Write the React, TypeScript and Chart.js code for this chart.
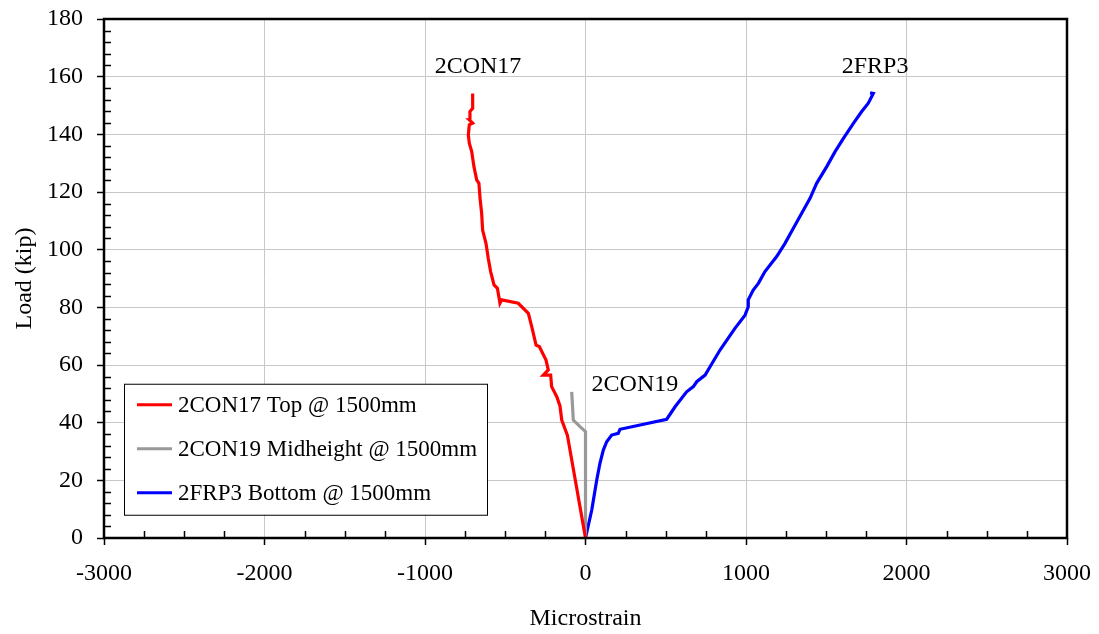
import React, { useEffect, useRef } from "react";
import { Chart, registerables } from "chart.js";

Chart.register(...registerables);

const con17Strain = [0, -113, -148, -159, -179, -211, -217, -263, -232, -246, -288, -308, -335, -356, -419, -522, -533, -549, -570, -591, -606, -620, -641, -647, -657, -664, -678, -695, -709, -724, -730, -724, -703, -724, -720, -703, -703];
const con17Load = [0, 35.7, 40.9, 45.8, 49, 52.5, 56.5, 56.5, 58.3, 61.7, 66.4, 66.9, 73.3, 77.9, 81.4, 82.6, 81.4, 86.6, 87.8, 92.4, 97, 102.2, 106.8, 112.6, 117.8, 123, 124.2, 128.8, 134, 136.9, 139.8, 143.3, 143.9, 145, 147.9, 149, 154.2];

const con19Strain = [0, 0, -34, -76, -86];
const con19Load = [0, 36.9, 38.6, 40.9, 50.7];

const frp3Strain = [0, 39, 70, 90, 111, 132, 163, 204, 215, 506, 558, 630, 672, 693, 745, 776, 838, 931, 994, 1014, 1014, 1045, 1077, 1118, 1191, 1243, 1295, 1347, 1399, 1440, 1503, 1555, 1607, 1669, 1721, 1762, 1793, 1773];
const frp3Load = [0, 9.7, 20.1, 25.9, 30.5, 33.4, 35.7, 36.3, 37.7, 41.2, 45.5, 50.7, 52.5, 54.2, 56.5, 59.4, 65.2, 72.7, 77.3, 80.2, 82.6, 86, 88.3, 92.4, 97.6, 102.2, 107.4, 112.6, 117.8, 123, 128.8, 134, 138.6, 143.8, 147.9, 150.8, 154.2, 154.4];

const seriesLabels = ["2CON17 Top @ 1500mm", "2CON19 Midheight @ 1500mm", "2FRP3 Bottom @ 1500mm"];
const seriesColors = ["#ff0000", "#999999", "#0000ff"];

const annotations = [
  { text: "2CON17", x: -670, y: 163.4 },
  { text: "2FRP3", x: 1804, y: 163.4 },
  { text: "2CON19", x: 308, y: 53.1 },
];

const xMin = -3000, xMax = 3000, xStep = 1000, xMinor = 250;
const yMin = 0, yMax = 180, yStep = 20, yMinor = 4;

const FONT = "'Liberation Serif', 'Times New Roman', serif";

const toPts = (xs: number[], ys: number[]) => xs.map((x, i) => ({ x, y: ys[i] }));

const zeroPad = (s: any) => {
  s.paddingLeft = 0;
  s.paddingRight = 0;
  s.paddingTop = 0;
  s.paddingBottom = 0;
};

const decorPlugin = {
  id: "decor",
  afterDraw(chart: any) {
    const ctx = chart.ctx;
    const ca = chart.chartArea;
    const xs = chart.scales.x;
    const ys = chart.scales.y;
    ctx.save();
    // minor ticks inside
    ctx.strokeStyle = "#000";
    ctx.lineWidth = 1.5;
    ctx.beginPath();
    for (let v = xMin; v <= xMax; v += xMinor) {
      if (v % xStep === 0) continue;
      const px = Math.round(xs.getPixelForValue(v)) + 0.5;
      ctx.moveTo(px, ca.bottom);
      ctx.lineTo(px, ca.bottom - 7);
    }
    for (let v = yMin; v <= yMax; v += yMinor) {
      if (v % yStep === 0) continue;
      const py = Math.round(ys.getPixelForValue(v)) + 0.5;
      ctx.moveTo(ca.left, py);
      ctx.lineTo(ca.left + 7, py);
    }
    ctx.stroke();
    // frame
    ctx.lineWidth = 2.5;
    ctx.strokeRect(ca.left, ca.top, ca.right - ca.left, ca.bottom - ca.top);
    // annotations
    ctx.fillStyle = "#000";
    ctx.font = `24px ${FONT}`;
    ctx.textAlign = "center";
    ctx.textBaseline = "middle";
    annotations.forEach((a) => {
      ctx.fillText(a.text, xs.getPixelForValue(a.x), ys.getPixelForValue(a.y));
    });
    // legend
    const bx = ca.left + 20, by = ys.getPixelForValue(53.5);
    const bw = 363, bh = 131;
    ctx.fillStyle = "#fff";
    ctx.fillRect(bx, by, bw, bh);
    ctx.strokeStyle = "#000";
    ctx.lineWidth = 1;
    ctx.strokeRect(bx + 0.5, by + 0.5, bw, bh);
    ctx.font = `23px ${FONT}`;
    chart.data.datasets.forEach((ds: any, i: number) => {
      const ly = by + 21 + i * 44;
      ctx.strokeStyle = ds.borderColor;
      ctx.lineWidth = 3;
      ctx.beginPath();
      ctx.moveTo(bx + 13, ly);
      ctx.lineTo(bx + 48, ly);
      ctx.stroke();
      ctx.fillStyle = "#000";
      ctx.textAlign = "left";
      ctx.textBaseline = "middle";
      ctx.fillText(ds.label, bx + 54, ly + 1);
    });
    ctx.restore();
  },
};

export default function App() {
  const ref = useRef<HTMLCanvasElement>(null);
  useEffect(() => {
    const xs = [con17Strain, con19Strain, frp3Strain];
    const ysArr = [con17Load, con19Load, frp3Load];
    const chart = new Chart(ref.current!, {
      type: "scatter",
      data: {
        datasets: seriesLabels.map((label, i) => ({
          label,
          data: toPts(xs[i], ysArr[i]),
          showLine: true,
          borderColor: seriesColors[i],
          backgroundColor: seriesColors[i],
          borderWidth: 3.2,
          pointRadius: 0,
          tension: 0,
        })),
      },
      options: {
        animation: false,
        responsive: true,
        maintainAspectRatio: false,
        layout: { padding: { top: 19, right: 32, left: 0, bottom: 0 } },
        plugins: { legend: { display: false }, tooltip: { enabled: false } },
        scales: {
          x: {
            type: "linear",
            min: xMin,
            max: xMax,
            afterFit: (s: any) => { s.height = 96; zeroPad(s); },
            ticks: { stepSize: xStep, color: "#000", font: { family: FONT, size: 24 }, padding: 14, maxRotation: 0, callback: (v: any) => String(v) },
            grid: { color: "#c8c8c8", lineWidth: 1, tickColor: "#000", tickLength: 7, tickWidth: 1.5 },
            border: { display: false },
            title: { display: true, text: "Microstrain", color: "#000", font: { family: FONT, size: 24 }, padding: { top: 0, bottom: 1 } },
          },
          y: {
            type: "linear",
            min: yMin,
            max: yMax,
            afterFit: (s: any) => { s.width = 104; zeroPad(s); },
            ticks: { stepSize: yStep, color: "#000", font: { family: FONT, size: 24 }, padding: 14, callback: (v: any) => String(v) },
            grid: { color: "#c8c8c8", lineWidth: 1, tickColor: "#000", tickLength: 7, tickWidth: 1.5 },
            border: { display: false },
            title: { display: true, text: "Load (kip)", color: "#000", font: { family: FONT, size: 24 }, padding: { top: 10, bottom: 0 } },
          },
        },
      },
      plugins: [decorPlugin],
    });
    return () => chart.destroy();
  }, []);
  return (
    <div style={{ position: "absolute", left: 0, top: 0, width: 1099, height: 634 }}>
      <canvas ref={ref} />
    </div>
  );
}
